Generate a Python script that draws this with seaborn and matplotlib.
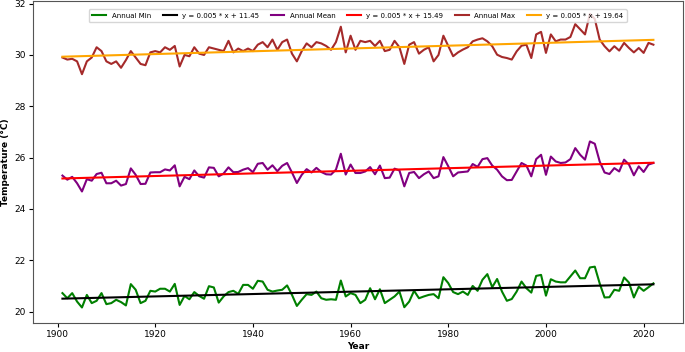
import numpy as np
import pandas as pd
import seaborn as sns
import matplotlib
matplotlib.use("Agg")
import matplotlib.pyplot as plt

# Anos e séries anuais
years = list(range(1901, 2023))

annual_min = [
    20.72, 20.52, 20.72, 20.39, 20.16, 20.65, 20.33, 20.42, 20.72, 20.29,
    20.33, 20.46, 20.37, 20.24, 21.07, 20.85, 20.33, 20.42, 20.81, 20.78,
    20.89, 20.89, 20.78, 21.08, 20.26, 20.61, 20.48, 20.76, 20.61, 20.50,
    20.99, 20.94, 20.35, 20.59, 20.76, 20.81, 20.69, 21.04, 21.04, 20.89,
    21.20, 21.17, 20.85, 20.78, 20.82, 20.85, 21.02, 20.65, 20.22, 20.46,
    20.68, 20.65, 20.78, 20.52, 20.46, 20.48, 20.46, 21.21, 20.59, 20.72,
    20.65, 20.33, 20.46, 20.91, 20.48, 20.87, 20.33, 20.46, 20.59, 20.78,
    20.17, 20.39, 20.81, 20.52, 20.59, 20.65, 20.68, 20.52, 21.34, 21.11,
    20.76, 20.68, 20.78, 20.65, 21.00, 20.81, 21.24, 21.46, 20.95, 21.27,
    20.78, 20.42, 20.49, 20.78, 21.17, 20.91, 20.74, 21.39, 21.43, 20.62,
    21.26, 21.17, 21.14, 21.14, 21.37, 21.60, 21.30, 21.30, 21.72, 21.75,
    21.10, 20.55, 20.56, 20.85, 20.81, 21.33, 21.13, 20.55, 20.97, 20.81,
    20.95, 21.10,
]

annual_mean = [
    25.30, 25.14, 25.25, 25.00, 24.68, 25.16, 25.10, 25.36, 25.41, 25.00,
    25.00, 25.10, 24.91, 24.97, 25.58, 25.33, 24.97, 24.98, 25.42, 25.43,
    25.43, 25.54, 25.50, 25.70, 24.88, 25.25, 25.16, 25.50, 25.27, 25.22,
    25.62, 25.60, 25.27, 25.38, 25.62, 25.43, 25.44, 25.53, 25.59, 25.43,
    25.76, 25.79, 25.53, 25.70, 25.47, 25.68, 25.79, 25.42, 25.01, 25.33,
    25.55, 25.42, 25.60, 25.44, 25.35, 25.34, 25.53, 26.15, 25.34, 25.73,
    25.40, 25.40, 25.46, 25.63, 25.35, 25.69, 25.20, 25.22, 25.57, 25.50,
    24.88, 25.40, 25.44, 25.20, 25.35, 25.46, 25.20, 25.27, 26.02, 25.66,
    25.27, 25.42, 25.44, 25.46, 25.75, 25.64, 25.94, 25.98, 25.69, 25.53,
    25.27, 25.12, 25.13, 25.46, 25.79, 25.69, 25.27, 25.94, 26.11, 25.33,
    26.04, 25.85, 25.79, 25.81, 25.94, 26.37, 26.11, 25.92, 26.63, 26.54,
    25.85, 25.42, 25.36, 25.59, 25.46, 25.92, 25.73, 25.31, 25.66, 25.44,
    25.73, 25.79,
]

annual_max = [
    29.90, 29.82, 29.85, 29.75, 29.25, 29.75, 29.90, 30.30, 30.15, 29.75,
    29.65, 29.75, 29.50, 29.80, 30.15, 29.90, 29.65, 29.60, 30.10, 30.15,
    30.10, 30.30, 30.20, 30.35, 29.55, 30.00, 29.95, 30.30, 30.05, 30.00,
    30.30, 30.25, 30.20, 30.15, 30.55, 30.10, 30.25, 30.15, 30.25, 30.15,
    30.40, 30.50, 30.30, 30.60, 30.20, 30.50, 30.60, 30.05, 29.75, 30.15,
    30.45, 30.30, 30.50, 30.45, 30.35, 30.20, 30.50, 31.10, 30.10, 30.75,
    30.20, 30.55, 30.50, 30.55, 30.35, 30.55, 30.15, 30.20, 30.55, 30.30,
    29.65, 30.40, 30.50, 30.05, 30.20, 30.30, 29.75, 30.00, 30.75, 30.35,
    29.95, 30.10, 30.21, 30.30, 30.53, 30.60, 30.65, 30.53, 30.34, 30.01,
    29.92, 29.88, 29.82, 30.14, 30.36, 30.40, 29.88, 30.80, 30.90, 30.08,
    30.80, 30.53, 30.60, 30.60, 30.70, 31.20, 31.00, 30.80, 31.60, 31.40,
    30.60, 30.34, 30.14, 30.34, 30.17, 30.47, 30.27, 30.10, 30.27, 30.08,
    30.47, 30.40,
]

series_names = ["Annual Min", "Annual Mean", "Annual Max"]
trend_labels = ["y = 0.005 * x + 11.45", "y = 0.005 * x + 15.49", "y = 0.005 * x + 19.64"]
line_colors = ["green", "purple", "brown"]
trend_colors = ["black", "red", "orange"]

df = pd.DataFrame({"Year": years, "Annual Min": annual_min,
                   "Annual Mean": annual_mean, "Annual Max": annual_max})

fig = plt.figure(figsize=(6.85, 3.52), dpi=100)
ax = fig.add_axes([0.048, 0.082, 0.949, 0.915])

for name, tlabel, c, tc in zip(series_names, trend_labels, line_colors, trend_colors):
    sns.lineplot(data=df, x="Year", y=name, color=c, label=name, lw=1.5, ax=ax)
    # reta de tendência
    coef = np.polyfit(df["Year"], df[name], 1)
    trend = np.polyval(coef, df["Year"])
    sns.lineplot(x=df["Year"], y=trend, color=tc, label=tlabel, lw=1.5, ax=ax)

ax.set_xlim(1894.95, 2028.05)
ax.set_ylim(19.55, 32.1)
ax.set_yticks([20, 22, 24, 26, 28, 30, 32])
ax.set_xticks([1900, 1920, 1940, 1960, 1980, 2000, 2020])
ax.tick_params(labelsize=6.5, length=3, pad=2)
ax.set_xlabel("Year", fontsize=6.5, fontweight="bold", labelpad=2)
ax.set_ylabel("Temperature (°C)", fontsize=6.5, fontweight="bold", labelpad=3)
for s in ax.spines.values():
    s.set_color("#555555")

ax.legend(loc="upper center", ncol=6, fontsize=5, frameon=True,
          handlelength=2.0, handletextpad=0.75, columnspacing=1.7,
          borderpad=0.5, bbox_to_anchor=(0.5, 0.985))

fig.savefig("out.png", dpi=100)
